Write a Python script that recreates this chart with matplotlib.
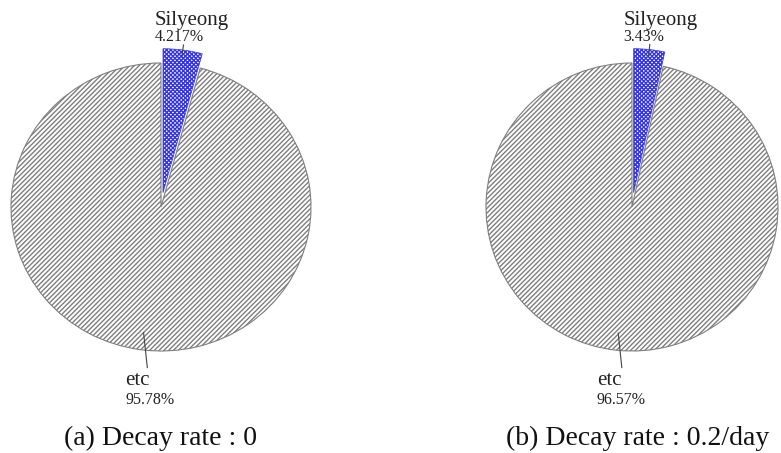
import numpy as np
from matplotlib import pyplot as plt

plt.rcParams['font.family'] = ['Liberation Serif', 'DejaVu Serif']
plt.rcParams['hatch.linewidth'] = 1.0

names = ["Silyeong", "etc"]
shares_a = [4.217, 95.78]
shares_b = [3.43, 96.57]
captions = ["(a) Decay rate : 0", "(b) Decay rate : 0.2/day"]

W, H = 781, 453
fig = plt.figure(figsize=(W / 100, H / 100), dpi=100)


def pct(v):
    return f"{v:g}%"


def draw_pie(box, shares, label_x):
    cx, cy, rx, ry = box
    ax = fig.add_axes([(cx - rx) / W, 1 - (cy + ry) / H, 2 * rx / W, 2 * ry / H])
    wedges, _ = ax.pie(shares, startangle=90, counterclock=False,
                       explode=[0.1, 0], radius=1.0)
    wedges[0].set(facecolor="white", edgecolor="#3434e6", hatch="x" * 8, linewidth=0.5)
    wedges[1].set(facecolor="white", edgecolor="#7e7e7e", hatch="/" * 7, linewidth=0.8)
    ax.set_aspect("auto")
    ax.set_xlim(-1, 1)
    ax.set_ylim(-1, 1)
    ax.axis("off")

    # mid angles of the two wedges
    total = sum(shares)
    a0 = np.deg2rad(90 - 360 * shares[0] / total / 2)
    a1 = np.deg2rad(90 - 360 * shares[0] / total - 360 * shares[1] / total / 2)

    # Silyeong: short leader up from the exploded wedge
    d0 = np.array([np.cos(a0), np.sin(a0)])
    p, q = 1.05 * d0, 1.135 * d0
    ax.plot([p[0], q[0]], [p[1], q[1]], color="#444444", lw=0.8, clip_on=False)
    ax.text(label_x[0], 1.265, names[0], fontsize=15, color="#222222",
            ha="left", va="baseline")
    ax.text(label_x[0], 1.153, pct(shares[0]), fontsize=11.5, color="#222222",
            ha="left", va="baseline")

    # etc: leader from inside the big wedge down to its label
    d1 = np.array([np.cos(a1), np.sin(a1)])
    p = 0.88 * d1
    ax.plot([p[0], p[0] + 0.025], [p[1], -1.115], color="#444444", lw=0.8, clip_on=False)
    ax.text(label_x[1], -1.236, names[1], fontsize=15, color="#222222",
            ha="left", va="baseline")
    ax.text(label_x[1], -1.368, pct(shares[1]), fontsize=11.5, color="#222222",
            ha="left", va="baseline")
    return ax


draw_pie((161, 207, 150, 144), shares_a, (-0.04, -0.24))
draw_pie((632, 207, 146, 144), shares_b, (-0.06, -0.24))

fig.text(160 / W, 1 - 445 / H, captions[0], fontsize=20, ha="center", va="baseline", color="#111111")
fig.text(638 / W, 1 - 445 / H, captions[1], fontsize=20, ha="center", va="baseline", color="#111111")

plt.savefig("out.png", dpi=100)
